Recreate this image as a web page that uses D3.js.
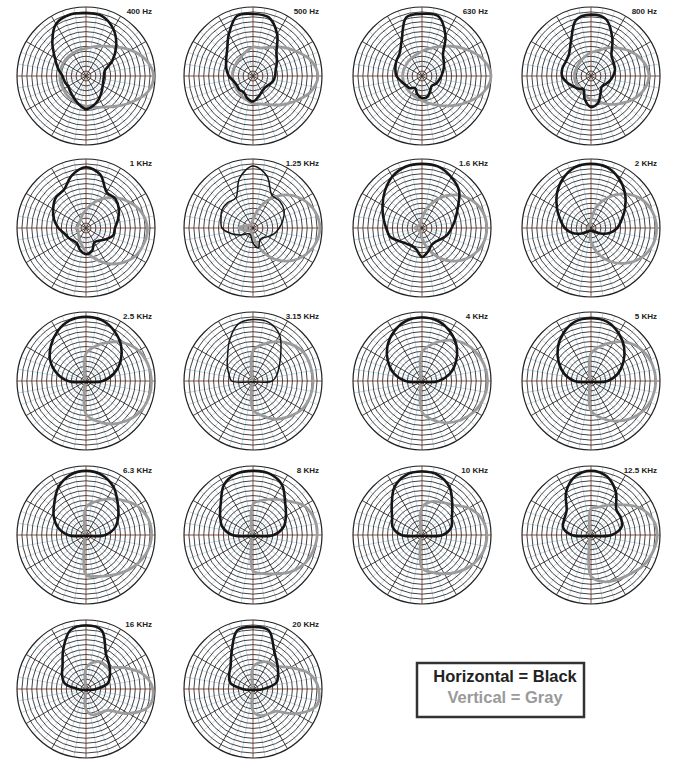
<!DOCTYPE html>
<html>
<head>
<meta charset="utf-8">
<script src="https://cdn.jsdelivr.net/npm/d3@7"></script>
<style>
  body { margin: 0; background: #fff; }
  svg { display: block; }
</style>
</head>
<body>
<svg id="chart" width="675" height="765"></svg>
<script>
// frequencies, one polar plot each
const labels = ["400 Hz", "500 Hz", "630 Hz", "800 Hz",
                "1 KHz", "1.25 KHz", "1.6 KHz", "2 KHz",
                "2.5 KHz", "3.15 KHz", "4 KHz", "5 KHz",
                "6.3 KHz", "8 KHz", "10 KHz", "12.5 KHz",
                "16 KHz", "20 KHz"];

// angles of the readings, clockwise from the top
const angles = d3.range(0, 360, 15);

// relative level (outer ring = 1), one row per frequency
const horizontal = [
  [0.91,0.90,0.79,0.62,0.44,0.28,0.26,0.26,0.28,0.32,0.38,0.44,0.48,0.42,0.36,0.32,0.30,0.32,0.34,0.42,0.52,0.69,0.87,0.92],
  [0.90,0.88,0.70,0.48,0.40,0.34,0.32,0.30,0.26,0.24,0.26,0.31,0.37,0.33,0.27,0.28,0.27,0.29,0.35,0.40,0.45,0.53,0.70,0.90],
  [0.90,0.90,0.68,0.43,0.37,0.32,0.28,0.25,0.23,0.20,0.24,0.31,0.32,0.27,0.20,0.25,0.27,0.31,0.37,0.40,0.43,0.46,0.59,0.88],
  [0.89,0.85,0.62,0.42,0.38,0.36,0.32,0.28,0.24,0.22,0.28,0.40,0.45,0.35,0.22,0.26,0.30,0.36,0.42,0.43,0.42,0.45,0.58,0.84],
  [0.88,0.80,0.60,0.60,0.55,0.48,0.42,0.41,0.33,0.26,0.24,0.34,0.38,0.33,0.26,0.26,0.29,0.32,0.40,0.48,0.55,0.62,0.64,0.79],
  [0.90,0.78,0.55,0.55,0.52,0.45,0.38,0.32,0.25,0.20,0.20,0.30,0.22,0.12,0.10,0.12,0.20,0.32,0.45,0.48,0.52,0.52,0.50,0.75],
  [0.93,0.92,0.85,0.76,0.60,0.50,0.43,0.38,0.32,0.28,0.28,0.35,0.42,0.32,0.30,0.32,0.38,0.48,0.52,0.58,0.66,0.76,0.86,0.92],
  [0.93,0.91,0.82,0.70,0.57,0.46,0.38,0.28,0.16,0.08,0.05,0.04,0.04,0.04,0.05,0.08,0.16,0.28,0.38,0.46,0.57,0.70,0.82,0.91],
  [0.93,0.91,0.83,0.72,0.58,0.42,0.24,0.06,0.02,0.02,0.02,0.02,0.02,0.02,0.02,0.02,0.02,0.06,0.26,0.44,0.60,0.72,0.83,0.91],
  [0.89,0.88,0.77,0.57,0.44,0.36,0.28,0.05,0.02,0.02,0.02,0.02,0.02,0.02,0.02,0.02,0.02,0.05,0.31,0.36,0.43,0.52,0.68,0.85],
  [0.92,0.90,0.82,0.71,0.57,0.42,0.24,0.06,0.02,0.02,0.02,0.02,0.02,0.02,0.02,0.02,0.02,0.06,0.24,0.42,0.57,0.71,0.82,0.90],
  [0.91,0.89,0.80,0.68,0.54,0.40,0.24,0.06,0.02,0.02,0.02,0.02,0.02,0.02,0.02,0.02,0.02,0.06,0.24,0.40,0.54,0.68,0.80,0.89],
  [0.93,0.90,0.80,0.65,0.54,0.44,0.28,0.06,0.02,0.02,0.02,0.02,0.02,0.02,0.02,0.02,0.02,0.06,0.26,0.42,0.54,0.65,0.80,0.90],
  [0.93,0.92,0.84,0.66,0.55,0.46,0.30,0.06,0.02,0.02,0.02,0.02,0.02,0.02,0.02,0.02,0.02,0.06,0.30,0.46,0.55,0.66,0.84,0.92],
  [0.92,0.90,0.80,0.62,0.50,0.44,0.30,0.06,0.02,0.02,0.02,0.02,0.02,0.02,0.02,0.02,0.02,0.06,0.30,0.44,0.50,0.62,0.80,0.90],
  [0.93,0.88,0.72,0.52,0.50,0.46,0.30,0.06,0.02,0.02,0.02,0.02,0.02,0.02,0.02,0.02,0.02,0.06,0.28,0.42,0.45,0.50,0.72,0.88],
  [0.92,0.88,0.58,0.48,0.40,0.33,0.15,0.06,0.02,0.02,0.02,0.02,0.02,0.02,0.02,0.02,0.02,0.06,0.12,0.32,0.40,0.48,0.66,0.88],
  [0.90,0.88,0.62,0.50,0.42,0.35,0.15,0.06,0.02,0.02,0.02,0.02,0.02,0.02,0.02,0.02,0.02,0.06,0.15,0.34,0.40,0.46,0.62,0.88]
];

const vertical = [
  [0.40,0.44,0.50,0.60,0.75,0.90,0.98,0.92,0.76,0.62,0.52,0.47,0.44,0.42,0.40,0.39,0.38,0.38,0.38,0.38,0.38,0.38,0.38,0.39],
  [0.42,0.42,0.48,0.59,0.72,0.87,0.94,0.87,0.72,0.59,0.48,0.42,0.40,0.36,0.33,0.31,0.30,0.30,0.30,0.30,0.30,0.31,0.33,0.37],
  [0.36,0.41,0.49,0.61,0.76,0.92,1.00,0.92,0.76,0.61,0.49,0.41,0.36,0.32,0.30,0.29,0.28,0.28,0.28,0.28,0.28,0.29,0.30,0.32],
  [0.34,0.38,0.47,0.57,0.69,0.79,0.84,0.79,0.69,0.57,0.47,0.38,0.34,0.30,0.27,0.25,0.24,0.24,0.24,0.24,0.24,0.25,0.27,0.30],
  [0.26,0.37,0.49,0.62,0.74,0.84,0.89,0.87,0.82,0.72,0.59,0.45,0.34,0.25,0.19,0.15,0.13,0.12,0.15,0.12,0.12,0.13,0.15,0.20],
  [0.12,0.27,0.48,0.68,0.83,0.93,0.97,0.93,0.83,0.68,0.48,0.27,0.12,0.08,0.06,0.06,0.08,0.12,0.22,0.12,0.08,0.06,0.06,0.08],
  [0.15,0.30,0.50,0.68,0.82,0.91,0.94,0.91,0.82,0.68,0.50,0.30,0.15,0.08,0.06,0.06,0.06,0.08,0.10,0.08,0.06,0.06,0.06,0.08],
  [0.12,0.32,0.52,0.70,0.84,0.92,0.95,0.93,0.85,0.72,0.56,0.38,0.20,0.06,0.04,0.04,0.04,0.04,0.04,0.04,0.04,0.04,0.04,0.05],
  [0.40,0.52,0.65,0.78,0.88,0.93,0.95,0.94,0.90,0.82,0.72,0.60,0.48,0.08,0.03,0.02,0.02,0.02,0.02,0.02,0.02,0.02,0.03,0.08],
  [0.44,0.55,0.66,0.76,0.84,0.86,0.87,0.86,0.82,0.73,0.64,0.52,0.42,0.08,0.03,0.02,0.02,0.02,0.02,0.02,0.02,0.02,0.03,0.08],
  [0.42,0.55,0.68,0.80,0.88,0.93,0.95,0.93,0.88,0.80,0.70,0.58,0.45,0.08,0.03,0.02,0.02,0.02,0.02,0.02,0.02,0.02,0.03,0.08],
  [0.40,0.52,0.65,0.78,0.87,0.92,0.94,0.92,0.87,0.78,0.67,0.55,0.43,0.08,0.03,0.02,0.02,0.02,0.02,0.02,0.02,0.02,0.03,0.08],
  [0.40,0.50,0.60,0.72,0.85,0.93,0.95,0.92,0.85,0.76,0.68,0.62,0.58,0.08,0.03,0.02,0.02,0.02,0.02,0.02,0.02,0.02,0.03,0.08],
  [0.45,0.52,0.60,0.70,0.85,0.92,0.93,0.90,0.85,0.76,0.65,0.58,0.52,0.08,0.03,0.02,0.02,0.02,0.02,0.02,0.02,0.02,0.03,0.08],
  [0.40,0.50,0.55,0.62,0.78,0.90,0.94,0.92,0.85,0.75,0.65,0.56,0.48,0.08,0.03,0.02,0.02,0.02,0.02,0.02,0.02,0.02,0.03,0.08],
  [0.38,0.42,0.50,0.62,0.80,0.92,0.96,0.93,0.88,0.80,0.75,0.70,0.60,0.08,0.03,0.02,0.02,0.02,0.02,0.02,0.02,0.02,0.03,0.08],
  [0.30,0.40,0.45,0.45,0.62,0.85,0.97,0.95,0.71,0.44,0.40,0.39,0.30,0.04,0.02,0.02,0.02,0.02,0.02,0.02,0.02,0.02,0.02,0.04],
  [0.32,0.40,0.45,0.47,0.62,0.85,0.95,0.95,0.72,0.46,0.42,0.40,0.32,0.04,0.02,0.02,0.02,0.02,0.02,0.02,0.02,0.02,0.02,0.04]
];

const legendLines = ["Horizontal = Black", "Vertical = Gray"];

// layout
const colX = [86, 253, 422, 591],
      rowY = [76, 228, 381, 535, 689],
      R = 69,
      ringCount = 14,
      thinBlack = new Set(["1.25 KHz", "3.15 KHz"]);

const svg = d3.select('#chart');
const r = d3.scaleLinear().domain([0, 1]).range([0, R]);
const line = d3.lineRadial()
    .angle(d => d[0] * Math.PI / 180)
    .radius(d => r(d[1]))
    .curve(d3.curveCatmullRomClosed.alpha(0.5));

const rad = a => a * Math.PI / 180;

labels.forEach((label, i) => {
    const g = svg.append('g')
        .attr('transform', `translate(${colX[i % 4]},${rowY[Math.floor(i / 4)]})`);

    // light blue minor spokes, kept off the crowded middle
    g.selectAll('line.minor')
        .data(d3.range(0, 360, 10).filter(a => a % 30 !== 0))
        .join('line')
        .attr('class', 'minor')
        .attr('x1', a => r(2 / ringCount) * Math.sin(rad(a)))
        .attr('y1', a => -r(2 / ringCount) * Math.cos(rad(a)))
        .attr('x2', a => r(1) * Math.sin(rad(a)))
        .attr('y2', a => -r(1) * Math.cos(rad(a)))
        .attr('stroke', '#b9d3e4')
        .attr('stroke-width', 0.8);

    // rings
    g.selectAll('circle.ring')
        .data(d3.range(1, ringCount + 1))
        .join('circle')
        .attr('class', 'ring')
        .attr('r', k => r(k / ringCount))
        .attr('fill', 'none')
        .attr('stroke', '#222')
        .attr('stroke-width', k => k === ringCount ? 1.2 : 0.85);

    // main spokes, axes in red-brown
    g.selectAll('line.major')
        .data(d3.range(0, 360, 30))
        .join('line')
        .attr('class', 'major')
        .attr('x1', 0).attr('y1', 0)
        .attr('x2', a => r(1) * Math.sin(rad(a)))
        .attr('y2', a => -r(1) * Math.cos(rad(a)))
        .attr('stroke', a => a % 90 === 0 ? '#6e3426' : '#222')
        .attr('stroke-width', 0.85);

    g.append('path')
        .attr('d', line(angles.map((a, j) => [a, vertical[i][j]])))
        .attr('fill', 'none')
        .attr('stroke', '#9b9b9b')
        .attr('stroke-width', 2.8)
        .attr('stroke-linejoin', 'round');

    g.append('path')
        .attr('d', line(angles.map((a, j) => [a, horizontal[i][j]])))
        .attr('fill', 'none')
        .attr('stroke', '#151515')
        .attr('stroke-width', thinBlack.has(label) ? 1.5 : 2.6)
        .attr('stroke-linejoin', 'round');

    g.append('text')
        .attr('x', 66).attr('y', -62)
        .attr('text-anchor', 'end')
        .attr('font-family', 'Liberation Sans, Arial, sans-serif')
        .attr('font-weight', 'bold')
        .attr('font-size', 8)
        .attr('fill', '#222')
        .text(label);
});

// legend
const legend = svg.append('g').attr('transform', 'translate(417,663)');
legend.append('rect')
    .attr('width', 167).attr('height', 54)
    .attr('fill', '#fff')
    .attr('stroke', '#333')
    .attr('stroke-width', 2.5);
legend.selectAll('text')
    .data(legendLines)
    .join('text')
    .attr('x', 88)
    .attr('y', (d, i) => 19 + i * 21)
    .attr('text-anchor', 'middle')
    .attr('font-family', 'Liberation Sans, Arial, sans-serif')
    .attr('font-weight', 'bold')
    .attr('font-size', 16.5)
    .attr('fill', (d, i) => i === 0 ? '#222' : '#9a9a9a')
    .text(d => d);
</script>
</body>
</html>
